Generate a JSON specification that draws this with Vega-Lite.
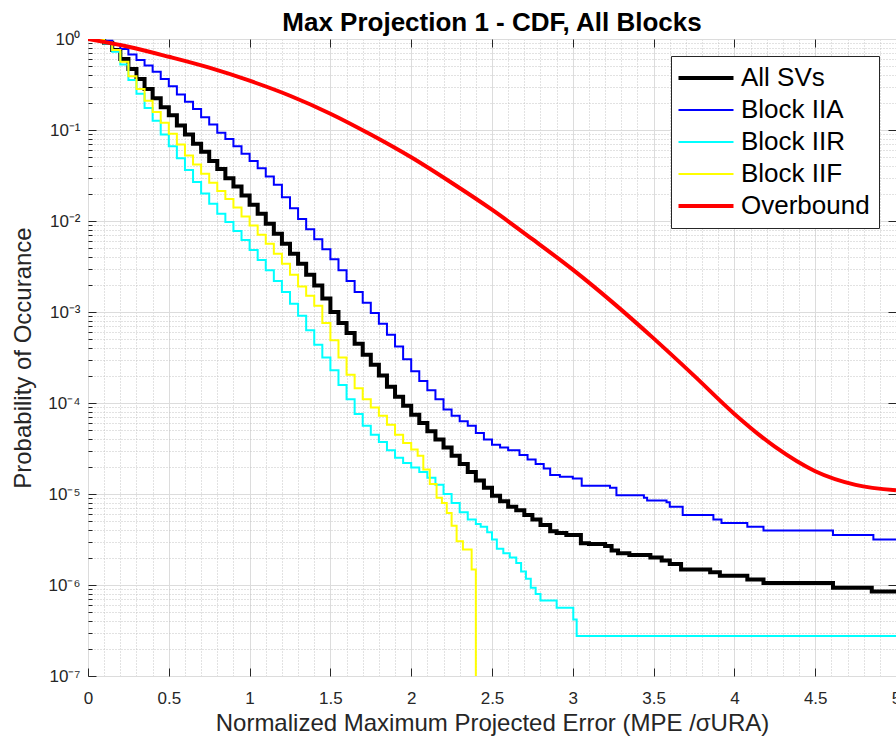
{
  "$schema": "https://vega.github.io/schema/vega-lite/v6.json",
  "width": 808,
  "height": 637,
  "autosize": {"type": "none"},
  "padding": {"left": 88, "top": 39, "right": 0, "bottom": 71},
  "background": "white",
  "config": {
    "font": "Liberation Sans",
    "view": {"stroke": "#262626", "strokeWidth": 1},
    "axis": {"domain": false, "labelFlush": false, "labelOverlap": false}
  },
  "title": {"text": "Max Projection 1 - CDF, All Blocks", "fontSize": 26, "fontWeight": "bold", "color": "#000000", "anchor": "middle", "frame": "group", "offset": -6},
  "datasets": {
    "d": [
      {"s":"All SVs","x":0,"p":1},{"s":"All SVs","x":0.05,"p":0.977},{"s":"All SVs","x":0.1,"p":0.912},{"s":"All SVs","x":0.15,"p":0.759},{"s":"All SVs","x":0.2,"p":0.603},{"s":"All SVs","x":0.25,"p":0.468},{"s":"All SVs","x":0.3,"p":0.363},{"s":"All SVs","x":0.35,"p":0.282},{"s":"All SVs","x":0.4,"p":0.224},{"s":"All SVs","x":0.45,"p":0.178},{"s":"All SVs","x":0.5,"p":0.145},{"s":"All SVs","x":0.55,"p":0.112},{"s":"All SVs","x":0.6,"p":0.0891},{"s":"All SVs","x":0.65,"p":0.0708},{"s":"All SVs","x":0.7,"p":0.0575},{"s":"All SVs","x":0.75,"p":0.0457},{"s":"All SVs","x":0.8,"p":0.0372},{"s":"All SVs","x":0.85,"p":0.0295},{"s":"All SVs","x":0.9,"p":0.024},{"s":"All SVs","x":0.95,"p":0.0191},{"s":"All SVs","x":1.0,"p":0.0151},{"s":"All SVs","x":1.05,"p":0.012},{"s":"All SVs","x":1.1,"p":0.00933},{"s":"All SVs","x":1.15,"p":0.00724},{"s":"All SVs","x":1.2,"p":0.00562},{"s":"All SVs","x":1.25,"p":0.00437},{"s":"All SVs","x":1.3,"p":0.00339},{"s":"All SVs","x":1.35,"p":0.00257},{"s":"All SVs","x":1.4,"p":0.00195},{"s":"All SVs","x":1.45,"p":0.00141},{"s":"All SVs","x":1.5,"p":0.001},{"s":"All SVs","x":1.55,"p":7.59e-4},{"s":"All SVs","x":1.6,"p":5.89e-4},{"s":"All SVs","x":1.65,"p":4.47e-4},{"s":"All SVs","x":1.7,"p":3.39e-4},{"s":"All SVs","x":1.75,"p":2.63e-4},{"s":"All SVs","x":1.8,"p":2.0e-4},{"s":"All SVs","x":1.85,"p":1.51e-4},{"s":"All SVs","x":1.9,"p":1.17e-4},{"s":"All SVs","x":1.95,"p":9.33e-5},{"s":"All SVs","x":2.0,"p":7.41e-5},{"s":"All SVs","x":2.05,"p":6.03e-5},{"s":"All SVs","x":2.1,"p":4.9e-5},{"s":"All SVs","x":2.15,"p":3.98e-5},{"s":"All SVs","x":2.2,"p":3.24e-5},{"s":"All SVs","x":2.25,"p":2.63e-5},{"s":"All SVs","x":2.3,"p":2.14e-5},{"s":"All SVs","x":2.35,"p":1.74e-5},{"s":"All SVs","x":2.4,"p":1.41e-5},{"s":"All SVs","x":2.45,"p":1.17e-5},{"s":"All SVs","x":2.5,"p":9.55e-6},{"s":"All SVs","x":2.55,"p":8.32e-6},{"s":"All SVs","x":2.6,"p":7.24e-6},{"s":"All SVs","x":2.65,"p":6.61e-6},{"s":"All SVs","x":2.7,"p":5.89e-6},{"s":"All SVs","x":2.75,"p":5.25e-6},{"s":"All SVs","x":2.8,"p":4.57e-6},{"s":"All SVs","x":2.86,"p":3.89e-6},{"s":"All SVs","x":2.9,"p":3.72e-6},{"s":"All SVs","x":2.96,"p":3.55e-6},{"s":"All SVs","x":3.05,"p":2.88e-6},{"s":"All SVs","x":3.1,"p":2.82e-6},{"s":"All SVs","x":3.2,"p":2.69e-6},{"s":"All SVs","x":3.24,"p":2.4e-6},{"s":"All SVs","x":3.28,"p":2.24e-6},{"s":"All SVs","x":3.35,"p":2.14e-6},{"s":"All SVs","x":3.48,"p":2.0e-6},{"s":"All SVs","x":3.55,"p":1.86e-6},{"s":"All SVs","x":3.6,"p":1.7e-6},{"s":"All SVs","x":3.67,"p":1.48e-6},{"s":"All SVs","x":3.85,"p":1.38e-6},{"s":"All SVs","x":3.91,"p":1.26e-6},{"s":"All SVs","x":4.08,"p":1.15e-6},{"s":"All SVs","x":4.18,"p":1.05e-6},{"s":"All SVs","x":4.61,"p":9.33e-7},{"s":"All SVs","x":4.85,"p":8.51e-7},{"s":"All SVs","x":5.0,"p":8.51e-7},

      {"s":"Block IIA","x":0,"p":1},{"s":"Block IIA","x":0.05,"p":0.989},{"s":"Block IIA","x":0.1,"p":0.955},{"s":"Block IIA","x":0.15,"p":0.871},{"s":"Block IIA","x":0.2,"p":0.776},{"s":"Block IIA","x":0.25,"p":0.676},{"s":"Block IIA","x":0.3,"p":0.589},{"s":"Block IIA","x":0.35,"p":0.513},{"s":"Block IIA","x":0.4,"p":0.437},{"s":"Block IIA","x":0.45,"p":0.363},{"s":"Block IIA","x":0.5,"p":0.302},{"s":"Block IIA","x":0.55,"p":0.245},{"s":"Block IIA","x":0.6,"p":0.204},{"s":"Block IIA","x":0.65,"p":0.17},{"s":"Block IIA","x":0.7,"p":0.138},{"s":"Block IIA","x":0.75,"p":0.115},{"s":"Block IIA","x":0.8,"p":0.0933},{"s":"Block IIA","x":0.85,"p":0.0794},{"s":"Block IIA","x":0.9,"p":0.0661},{"s":"Block IIA","x":0.95,"p":0.055},{"s":"Block IIA","x":1.0,"p":0.0457},{"s":"Block IIA","x":1.05,"p":0.038},{"s":"Block IIA","x":1.1,"p":0.0309},{"s":"Block IIA","x":1.15,"p":0.0251},{"s":"Block IIA","x":1.2,"p":0.0182},{"s":"Block IIA","x":1.25,"p":0.0138},{"s":"Block IIA","x":1.3,"p":0.0105},{"s":"Block IIA","x":1.35,"p":0.00813},{"s":"Block IIA","x":1.4,"p":0.00631},{"s":"Block IIA","x":1.45,"p":0.0049},{"s":"Block IIA","x":1.5,"p":0.0038},{"s":"Block IIA","x":1.55,"p":0.00288},{"s":"Block IIA","x":1.6,"p":0.00219},{"s":"Block IIA","x":1.65,"p":0.00166},{"s":"Block IIA","x":1.7,"p":0.00126},{"s":"Block IIA","x":1.75,"p":9.77e-4},{"s":"Block IIA","x":1.8,"p":7.41e-4},{"s":"Block IIA","x":1.85,"p":5.62e-4},{"s":"Block IIA","x":1.9,"p":4.17e-4},{"s":"Block IIA","x":1.95,"p":3.02e-4},{"s":"Block IIA","x":2.0,"p":2.24e-4},{"s":"Block IIA","x":2.05,"p":1.74e-4},{"s":"Block IIA","x":2.1,"p":1.38e-4},{"s":"Block IIA","x":2.15,"p":1.1e-4},{"s":"Block IIA","x":2.2,"p":8.51e-5},{"s":"Block IIA","x":2.25,"p":7.24e-5},{"s":"Block IIA","x":2.3,"p":6.31e-5},{"s":"Block IIA","x":2.35,"p":5.62e-5},{"s":"Block IIA","x":2.4,"p":4.68e-5},{"s":"Block IIA","x":2.45,"p":3.98e-5},{"s":"Block IIA","x":2.5,"p":3.47e-5},{"s":"Block IIA","x":2.55,"p":3.24e-5},{"s":"Block IIA","x":2.6,"p":3.02e-5},{"s":"Block IIA","x":2.67,"p":2.69e-5},{"s":"Block IIA","x":2.72,"p":2.4e-5},{"s":"Block IIA","x":2.77,"p":2.14e-5},{"s":"Block IIA","x":2.82,"p":1.91e-5},{"s":"Block IIA","x":2.86,"p":1.62e-5},{"s":"Block IIA","x":2.92,"p":1.55e-5},{"s":"Block IIA","x":3.0,"p":1.48e-5},{"s":"Block IIA","x":3.055,"p":1.23e-5},{"s":"Block IIA","x":3.23,"p":1.17e-5},{"s":"Block IIA","x":3.27,"p":9.66e-6},{"s":"Block IIA","x":3.44,"p":9.12e-6},{"s":"Block IIA","x":3.46,"p":8.51e-6},{"s":"Block IIA","x":3.58,"p":8.13e-6},{"s":"Block IIA","x":3.6,"p":7.24e-6},{"s":"Block IIA","x":3.68,"p":5.89e-6},{"s":"Block IIA","x":3.87,"p":5.25e-6},{"s":"Block IIA","x":3.92,"p":4.79e-6},{"s":"Block IIA","x":4.08,"p":4.37e-6},{"s":"Block IIA","x":4.18,"p":3.98e-6},{"s":"Block IIA","x":4.61,"p":3.55e-6},{"s":"Block IIA","x":4.86,"p":3.16e-6},{"s":"Block IIA","x":5.0,"p":3.16e-6},

      {"s":"Block IIR","x":0,"p":1},{"s":"Block IIR","x":0.05,"p":0.989},{"s":"Block IIR","x":0.1,"p":0.891},{"s":"Block IIR","x":0.15,"p":0.724},{"s":"Block IIR","x":0.2,"p":0.525},{"s":"Block IIR","x":0.25,"p":0.355},{"s":"Block IIR","x":0.3,"p":0.251},{"s":"Block IIR","x":0.35,"p":0.174},{"s":"Block IIR","x":0.4,"p":0.126},{"s":"Block IIR","x":0.45,"p":0.0891},{"s":"Block IIR","x":0.5,"p":0.0661},{"s":"Block IIR","x":0.55,"p":0.049},{"s":"Block IIR","x":0.6,"p":0.0363},{"s":"Block IIR","x":0.65,"p":0.0269},{"s":"Block IIR","x":0.7,"p":0.02},{"s":"Block IIR","x":0.75,"p":0.0155},{"s":"Block IIR","x":0.8,"p":0.012},{"s":"Block IIR","x":0.85,"p":0.00977},{"s":"Block IIR","x":0.9,"p":0.00776},{"s":"Block IIR","x":0.95,"p":0.00617},{"s":"Block IIR","x":1.0,"p":0.00479},{"s":"Block IIR","x":1.05,"p":0.00372},{"s":"Block IIR","x":1.1,"p":0.00288},{"s":"Block IIR","x":1.15,"p":0.00219},{"s":"Block IIR","x":1.2,"p":0.00166},{"s":"Block IIR","x":1.25,"p":0.00123},{"s":"Block IIR","x":1.3,"p":9.12e-4},{"s":"Block IIR","x":1.35,"p":6.31e-4},{"s":"Block IIR","x":1.4,"p":4.37e-4},{"s":"Block IIR","x":1.45,"p":3.16e-4},{"s":"Block IIR","x":1.5,"p":2.29e-4},{"s":"Block IIR","x":1.55,"p":1.58e-4},{"s":"Block IIR","x":1.6,"p":1.1e-4},{"s":"Block IIR","x":1.65,"p":7.59e-5},{"s":"Block IIR","x":1.7,"p":5.62e-5},{"s":"Block IIR","x":1.75,"p":4.47e-5},{"s":"Block IIR","x":1.8,"p":3.72e-5},{"s":"Block IIR","x":1.85,"p":3.02e-5},{"s":"Block IIR","x":1.9,"p":2.51e-5},{"s":"Block IIR","x":1.95,"p":2.19e-5},{"s":"Block IIR","x":2.0,"p":1.95e-5},{"s":"Block IIR","x":2.05,"p":1.74e-5},{"s":"Block IIR","x":2.1,"p":1.51e-5},{"s":"Block IIR","x":2.15,"p":1.26e-5},{"s":"Block IIR","x":2.2,"p":1.0e-5},{"s":"Block IIR","x":2.25,"p":7.94e-6},{"s":"Block IIR","x":2.3,"p":6.31e-6},{"s":"Block IIR","x":2.35,"p":5.25e-6},{"s":"Block IIR","x":2.4,"p":4.68e-6},{"s":"Block IIR","x":2.43,"p":4.37e-6},{"s":"Block IIR","x":2.47,"p":3.8e-6},{"s":"Block IIR","x":2.5,"p":3.16e-6},{"s":"Block IIR","x":2.53,"p":2.51e-6},{"s":"Block IIR","x":2.57,"p":2.24e-6},{"s":"Block IIR","x":2.61,"p":2.0e-6},{"s":"Block IIR","x":2.65,"p":1.74e-6},{"s":"Block IIR","x":2.68,"p":1.41e-6},{"s":"Block IIR","x":2.71,"p":1.17e-6},{"s":"Block IIR","x":2.74,"p":9.33e-7},{"s":"Block IIR","x":2.77,"p":7.94e-7},{"s":"Block IIR","x":2.8,"p":6.76e-7},{"s":"Block IIR","x":2.9,"p":5.62e-7},{"s":"Block IIR","x":3.003,"p":4.17e-7},{"s":"Block IIR","x":3.024,"p":2.75e-7},{"s":"Block IIR","x":5.0,"p":2.75e-7},

      {"s":"Block IIF","x":0,"p":1},{"s":"Block IIF","x":0.05,"p":0.989},{"s":"Block IIF","x":0.1,"p":0.912},{"s":"Block IIF","x":0.15,"p":0.759},{"s":"Block IIF","x":0.2,"p":0.562},{"s":"Block IIF","x":0.25,"p":0.389},{"s":"Block IIF","x":0.3,"p":0.282},{"s":"Block IIF","x":0.35,"p":0.209},{"s":"Block IIF","x":0.4,"p":0.158},{"s":"Block IIF","x":0.45,"p":0.12},{"s":"Block IIF","x":0.5,"p":0.0912},{"s":"Block IIF","x":0.55,"p":0.0692},{"s":"Block IIF","x":0.6,"p":0.0525},{"s":"Block IIF","x":0.65,"p":0.0417},{"s":"Block IIF","x":0.7,"p":0.0331},{"s":"Block IIF","x":0.75,"p":0.0263},{"s":"Block IIF","x":0.8,"p":0.0214},{"s":"Block IIF","x":0.85,"p":0.0174},{"s":"Block IIF","x":0.9,"p":0.0141},{"s":"Block IIF","x":0.95,"p":0.0112},{"s":"Block IIF","x":1.0,"p":0.00891},{"s":"Block IIF","x":1.05,"p":0.00708},{"s":"Block IIF","x":1.1,"p":0.00562},{"s":"Block IIF","x":1.15,"p":0.00437},{"s":"Block IIF","x":1.2,"p":0.00339},{"s":"Block IIF","x":1.25,"p":0.00257},{"s":"Block IIF","x":1.3,"p":0.00191},{"s":"Block IIF","x":1.35,"p":0.00151},{"s":"Block IIF","x":1.4,"p":0.00117},{"s":"Block IIF","x":1.45,"p":7.59e-4},{"s":"Block IIF","x":1.5,"p":4.9e-4},{"s":"Block IIF","x":1.55,"p":3.16e-4},{"s":"Block IIF","x":1.6,"p":2.04e-4},{"s":"Block IIF","x":1.65,"p":1.45e-4},{"s":"Block IIF","x":1.7,"p":1.1e-4},{"s":"Block IIF","x":1.75,"p":8.91e-5},{"s":"Block IIF","x":1.8,"p":7.24e-5},{"s":"Block IIF","x":1.85,"p":5.75e-5},{"s":"Block IIF","x":1.9,"p":4.47e-5},{"s":"Block IIF","x":1.95,"p":3.63e-5},{"s":"Block IIF","x":2.0,"p":3.09e-5},{"s":"Block IIF","x":2.04,"p":2.63e-5},{"s":"Block IIF","x":2.075,"p":1.86e-5},{"s":"Block IIF","x":2.115,"p":1.29e-5},{"s":"Block IIF","x":2.157,"p":9.12e-6},{"s":"Block IIF","x":2.19,"p":7.94e-6},{"s":"Block IIF","x":2.22,"p":6.17e-6},{"s":"Block IIF","x":2.25,"p":4.47e-6},{"s":"Block IIF","x":2.281,"p":3.02e-6},{"s":"Block IIF","x":2.32,"p":2.45e-6},{"s":"Block IIF","x":2.374,"p":1.48e-6},{"s":"Block IIF","x":2.4,"p":1e-9}
    ],
    "r": [
      {"s":"Overbound","x":0,"p":1},{"s":"Overbound","x":0.25,"p":0.822},{"s":"Overbound","x":0.5,"p":0.638},{"s":"Overbound","x":0.75,"p":0.484},{"s":"Overbound","x":1.0,"p":0.348},{"s":"Overbound","x":1.25,"p":0.238},{"s":"Overbound","x":1.5,"p":0.151},{"s":"Overbound","x":1.75,"p":0.0891},{"s":"Overbound","x":2.0,"p":0.0501},{"s":"Overbound","x":2.25,"p":0.0263},{"s":"Overbound","x":2.5,"p":0.0133},{"s":"Overbound","x":2.75,"p":0.00631},{"s":"Overbound","x":3.0,"p":0.00292},{"s":"Overbound","x":3.25,"p":0.00126},{"s":"Overbound","x":3.5,"p":5.13e-4},{"s":"Overbound","x":3.75,"p":2.0e-4},{"s":"Overbound","x":4.0,"p":7.59e-5},{"s":"Overbound","x":4.25,"p":3.31e-5},{"s":"Overbound","x":4.5,"p":1.78e-5},{"s":"Overbound","x":4.75,"p":1.26e-5},{"s":"Overbound","x":5.0,"p":1.1e-5}
    ]
  },
  "resolve": {"axis": {"x": "independent", "y": "independent"}},
  "layer": [
    {
      "data": {"name": "d"},
      "transform": [{"filter": "datum.s === 'All SVs'"}],
      "mark": {"type": "line", "interpolate": "step-after", "clip": true, "strokeWidth": 4},
      "encoding": {
        "x": {"field": "x", "type": "quantitative", "scale": {"domain": [0, 5], "nice": false, "zero": false},
          "axis": {"orient": "bottom", "values": [0.1,0.2,0.3,0.4,0.6,0.7,0.8,0.9,1.1,1.2,1.3,1.4,1.6,1.7,1.8,1.9,2.1,2.2,2.3,2.4,2.6,2.7,2.8,2.9,3.1,3.2,3.3,3.4,3.6,3.7,3.8,3.9,4.1,4.2,4.3,4.4,4.6,4.7,4.8,4.9],
            "grid": true, "gridColor": "#c4c4c4", "gridDash": [1, 2], "ticks": false, "labels": false, "domain": false, "title": null}},
        "y": {"field": "p", "type": "quantitative", "scale": {"type": "log", "domain": [1e-7, 1], "nice": false},
          "axis": {"orient": "left", "values": [2e-7,3e-7,4e-7,5e-7,6e-7,7e-7,8e-7,9e-7,2e-6,3e-6,4e-6,5e-6,6e-6,7e-6,8e-6,9e-6,2e-5,3e-5,4e-5,5e-5,6e-5,7e-5,8e-5,9e-5,2e-4,3e-4,4e-4,5e-4,6e-4,7e-4,8e-4,9e-4,0.002,0.003,0.004,0.005,0.006,0.007,0.008,0.009,0.02,0.03,0.04,0.05,0.06,0.07,0.08,0.09,0.2,0.3,0.4,0.5,0.6,0.7,0.8,0.9],
            "grid": true, "gridColor": "#c4c4c4", "gridDash": [1, 2], "ticks": true, "tickSize": -4, "tickColor": "#262626", "labels": false, "domain": false, "title": null}},
        "color": {"field": "s", "type": "nominal", "scale": {"domain": ["All SVs","Block IIA","Block IIR","Block IIF","Overbound"], "range": ["#000000","#0000ff","#00ffff","#ffff00","#ff0000"]},
          "legend": {"title": null, "orient": "top-right", "offset": 17, "fillColor": "white", "strokeColor": "#262626", "padding": 9, "labelFontSize": 26, "labelColor": "#000000", "symbolType": "stroke", "symbolSize": 3025, "symbolOffset": 13, "labelOffset": 22, "rowPadding": 6, "labelLimit": 300,
            "encode": {"symbols": {"update": {"strokeWidth": {"signal": "datum.value === 'All SVs' || datum.value === 'Overbound' ? 4 : 2"}}}}}}
      }
    },
    {
      "data": {"name": "d"},
      "transform": [{"filter": "datum.s !== 'All SVs'"}],
      "mark": {"type": "line", "interpolate": "step-after", "clip": true, "strokeWidth": 2},
      "encoding": {
        "x": {"field": "x", "type": "quantitative",
          "axis": {"orient": "bottom", "values": [0,0.5,1,1.5,2,2.5,3,3.5,4,4.5,5], "format": "~g",
            "grid": true, "gridColor": "#dcdcdc", "ticks": true, "tickSize": -8, "tickColor": "#262626",
            "labelFontSize": 17, "labelColor": "#262626", "labelPadding": 22, "domain": false,
            "title": "Normalized Maximum Projected Error (MPE /σURA)", "titleFontSize": 24, "titleFontWeight": "normal", "titleColor": "#262626", "titlePadding": 5}},
        "y": {"field": "p", "type": "quantitative",
          "axis": {"orient": "left", "values": [1e-7,1e-6,1e-5,1e-4,0.001,0.01,0.1,1],
            "labelExpr": "'10' + (datum.value >= 0.99 ? '⁰' : '⁻' + ['⁰','¹','²','³','⁴','⁵','⁶','⁷'][round(-log(datum.value)/LN10)])",
            "grid": true, "gridColor": "#dcdcdc", "ticks": true, "tickSize": -8, "tickColor": "#262626",
            "labelFontSize": 17, "labelColor": "#262626", "labelPadding": 16, "domain": false,
            "title": "Probability of Occurance", "titleFontSize": 24, "titleFontWeight": "normal", "titleColor": "#262626", "titlePadding": 12}},
        "color": {"field": "s", "type": "nominal"}
      }
    },
    {
      "data": {"name": "r"},
      "mark": {"type": "line", "interpolate": "monotone", "clip": true, "strokeWidth": 4},
      "encoding": {
        "x": {"field": "x", "type": "quantitative",
          "axis": {"orient": "top", "values": [0.5,1,1.5,2,2.5,3,3.5,4,4.5], "grid": false, "ticks": true, "tickSize": -8, "tickColor": "#262626", "labels": false, "domain": false, "title": null, "minExtent": 0, "maxExtent": 0, "labelPadding": 0}},
        "y": {"field": "p", "type": "quantitative",
          "axis": {"orient": "right", "values": [1e-6,1e-5,1e-4,0.001,0.01,0.1], "grid": false, "ticks": true, "tickSize": -8, "tickColor": "#262626", "labels": false, "domain": false, "title": null, "minExtent": 0, "maxExtent": 0}},
        "color": {"field": "s", "type": "nominal"}
      }
    }
  ]
}
